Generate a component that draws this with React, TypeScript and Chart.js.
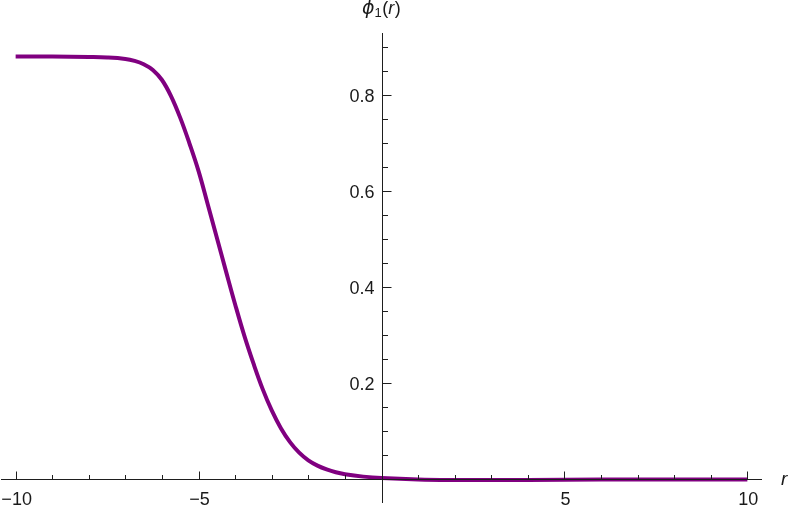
import React, { useEffect, useRef } from "react";
import { Chart, registerables } from "chart.js";

Chart.register(...registerables);

const rValues = [-10, -9, -8, -7.5, -7, -6.75, -6.5, -6.25, -6, -5.75, -5.5, -5.25, -5, -4.75, -4.5, -4.25, -4, -3.75, -3.5, -3.25, -3, -2.75, -2.5, -2.25, -2, -1.75, -1.5, -1.25, -1, -0.5, 0, 1, 2, 3, 4, 6, 8, 10];
const phiValues = [0.881, 0.881, 0.88, 0.879, 0.876, 0.872, 0.865, 0.853, 0.832, 0.798, 0.753, 0.7, 0.642, 0.573, 0.503, 0.433, 0.364, 0.299, 0.241, 0.188, 0.143, 0.106, 0.077, 0.055, 0.039, 0.028, 0.02, 0.014, 0.01, 0.005, 0.002, -0.001, -0.002, -0.002, -0.002, -0.001, -0.001, -0.001];

const xMajorTicks = [-10, -5, 5, 10];
const xTickLabels = ["\u221210", "\u22125", "5", "10"];
const xMinorTicks = [-9, -8, -7, -6, -4, -3, -2, -1, 1, 2, 3, 4, 6, 7, 8, 9];
const yMajorTicks = [0.2, 0.4, 0.6, 0.8];
const yTickLabels = ["0.2", "0.4", "0.6", "0.8"];
const yMinorTicks = [0.05, 0.1, 0.15, 0.25, 0.3, 0.35, 0.45, 0.5, 0.55, 0.65, 0.7, 0.75, 0.85, 0.9];

const FONT = "'Liberation Sans', Arial, sans-serif";

const axesPlugin = {
  id: "mathAxes",
  afterDatasetsDraw(chart: any) {
    const { ctx } = chart;
    const xs = chart.scales.x;
    const ys = chart.scales.y;
    const x0 = Math.round(xs.getPixelForValue(0)) + 0.5;
    const y0 = Math.round(ys.getPixelForValue(0)) + 0.5;
    ctx.save();
    ctx.strokeStyle = "#1e1e1e";
    ctx.lineWidth = 1;
    ctx.beginPath();
    ctx.moveTo(xs.left, y0);
    ctx.lineTo(xs.right, y0);
    ctx.moveTo(x0, ys.top);
    ctx.lineTo(x0, ys.bottom);
    ctx.stroke();
    ctx.beginPath();
    xMajorTicks.forEach((v) => {
      const px = Math.round(xs.getPixelForValue(v)) + 0.5;
      ctx.moveTo(px, y0);
      ctx.lineTo(px, y0 - 8);
    });
    xMinorTicks.forEach((v) => {
      const px = Math.round(xs.getPixelForValue(v)) + 0.5;
      ctx.moveTo(px, y0);
      ctx.lineTo(px, y0 - 4.5);
    });
    yMajorTicks.forEach((v) => {
      const py = Math.round(ys.getPixelForValue(v)) + 0.5;
      ctx.moveTo(x0, py);
      ctx.lineTo(x0 + 9, py);
    });
    yMinorTicks.forEach((v) => {
      const py = Math.round(ys.getPixelForValue(v)) + 0.5;
      ctx.moveTo(x0, py);
      ctx.lineTo(x0 + 5.5, py);
    });
    ctx.stroke();

    ctx.fillStyle = "#1a1a1a";
    ctx.font = `18px ${FONT}`;
    ctx.textBaseline = "alphabetic";
    ctx.textAlign = "center";
    xMajorTicks.forEach((v, i) => {
      const px = xs.getPixelForValue(v);
      ctx.fillText(xTickLabels[i], px + 1, y0 + 25);
    });
    ctx.textAlign = "right";
    yMajorTicks.forEach((v, i) => {
      const py = ys.getPixelForValue(v);
      ctx.fillText(yTickLabels[i], x0 - 8, py + 6.5);
    });

    ctx.textAlign = "left";
    ctx.font = `italic 19px ${FONT}`;
    ctx.fillText("r", 781, y0 + 5.5);

    let cx = 362;
    const base = 14;
    ctx.font = `italic 19px 'DejaVu Sans', ${FONT}`;
    ctx.fillText("\u03D5", cx, base);
    cx += ctx.measureText("\u03D5").width;
    ctx.font = `13px ${FONT}`;
    ctx.fillText("1", cx, base + 3);
    cx += ctx.measureText("1").width + 0.5;
    ctx.font = `18px ${FONT}`;
    ctx.fillText("(", cx, base);
    cx += ctx.measureText("(").width;
    ctx.font = `italic 18px ${FONT}`;
    ctx.fillText("r", cx, base);
    cx += ctx.measureText("r").width + 0.5;
    ctx.font = `18px ${FONT}`;
    ctx.fillText(")", cx, base);
    ctx.restore();
  },
};

export default function App() {
  const canvasRef = useRef<HTMLCanvasElement | null>(null);

  useEffect(() => {
    const canvas = canvasRef.current;
    if (!canvas) return;
    const points = rValues.map((r, i) => ({ x: r, y: phiValues[i] }));
    const chart = new Chart(canvas, {
      type: "line",
      data: {
        datasets: [
          {
            data: points,
            borderColor: "#800080",
            borderWidth: 4,
            pointRadius: 0,
            fill: false,
            tension: 0.4,
            borderCapStyle: "butt",
            borderJoinStyle: "round",
          },
        ],
      },
      options: {
        responsive: false,
        animation: false,
        devicePixelRatio: 1,
        layout: { padding: { left: 1, right: 28, top: 33, bottom: 2 } },
        plugins: { legend: { display: false }, tooltip: { enabled: false } },
        scales: {
          x: { type: "linear", min: -10.4, max: 10.4, display: false },
          y: { type: "linear", min: -0.05, max: 0.93, display: false },
        },
      },
      plugins: [axesPlugin],
    } as any);
    return () => chart.destroy();
  }, []);

  return (
    <div style={{ position: "fixed", left: 0, top: 0, width: 790, height: 505, background: "#fff" }}>
      <canvas ref={canvasRef} width={790} height={505} style={{ display: "block", width: 790, height: 505 }} />
    </div>
  );
}
